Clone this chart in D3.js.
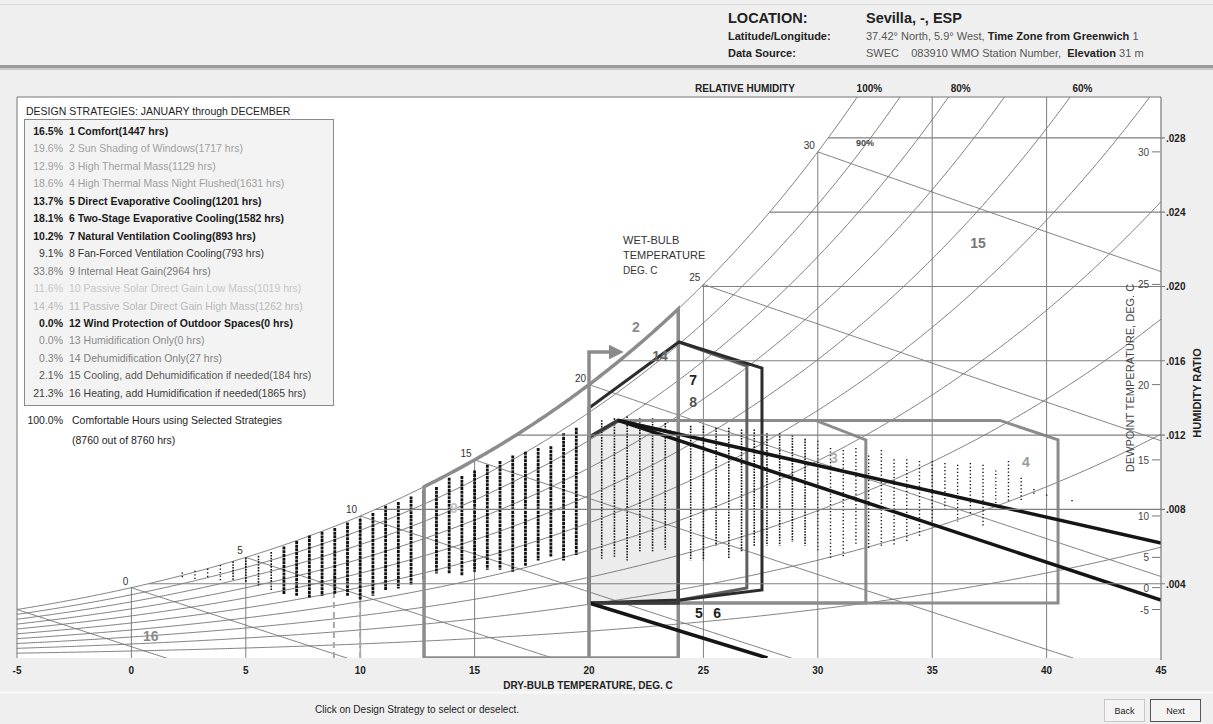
<!DOCTYPE html>
<html><head><meta charset="utf-8">
<script src="https://cdn.jsdelivr.net/npm/d3@7"></script>
<style>
html,body{margin:0;padding:0;background:#efefef;}
svg{display:block;}
.nar{font-family:"Liberation Sans Narrow","Arial Narrow","Liberation Sans",Arial,sans-serif;}
.reg{font-family:"Liberation Sans",Arial,sans-serif;}
</style></head><body>
<svg id="chart" width="1213" height="724"></svg>
<script>
// ---- Design strategies (Sevilla, whole year) ----
const totalHours = 8760;
const strategyNames = ["Comfort","Sun Shading of Windows","High Thermal Mass","High Thermal Mass Night Flushed",
  "Direct Evaporative Cooling","Two-Stage Evaporative Cooling","Natural Ventilation Cooling","Fan-Forced Ventilation Cooling",
  "Internal Heat Gain","Passive Solar Direct Gain Low Mass","Passive Solar Direct Gain High Mass","Wind Protection of Outdoor Spaces",
  "Humidification Only","Dehumidification Only","Cooling, add Dehumidification if needed","Heating, add Humidification if needed"];
const strategyHours = [1447,1717,1129,1631,1201,1582,893,793,2964,1019,1262,0,0,27,184,1865];
// selection state of each strategy: 2 = selected, 1 = partly shown, 0 = off
const strategyState = [2,0,0,0,2,2,2,1,0,0,0,2,0,0,1,1];
const comfortableHours = 8760;

// ---- Axes ----
const dryBulbTicks = [-5,0,5,10,15,20,25,30,35,40,45];
const humidityRatioTicks = [0.004,0.008,0.012,0.016,0.020,0.024,0.028];
const dewPointTicks = [-5,0,5,10,15,20,25,30];
const wetBulbTemps = [-5,0,5,10,15,20,25,30];
const wetBulbLabels = [0,5,10,15,20,25,30];
const rhCurves = [0.1,0.2,0.3,0.4,0.5,0.6,0.7,0.8,0.9];
const rhTopLabels = [1.0,0.8,0.6];

// ---- Hourly readings binned by whole degree F: humidity ratio span (g/kg) ----
const binDryBulbF = [36,37,38,39,40,41,42,43,44,45,46,47,48,49,50,51,52,53,54,55,56,57,58,59,60,61,62,63,64,65,66,67,
  68,69,70,71,72,73,74,75,76,77,78,79,80,81,82,83,84,85,86,87,88,89,90,91,92,93,94,95,96,97,98,99,100,101,102,103,104,106];
const binHighW = [4.6,4.7,4.8,5.0,5.2,5.4,5.5,5.7,6.0,6.3,6.6,6.8,7.0,7.3,7.5,7.8,8.2,8.4,8.7,9.0,9.2,9.7,9.8,10.1,10.4,10.6,10.9,11.1,11.3,11.4,12.1,12.4,
  12.6,12.8,12.9,13.0,12.9,12.9,12.8,12.6,12.5,12.5,12.4,12.4,12.3,12.3,12.1,12.1,12.0,11.8,11.7,11.3,11.2,11.3,10.9,11.2,10.7,10.7,10.6,10.6,10.5,10.4,10.5,10.4,10.1,10.6,9.7,9.1,8.8,8.5];
const binLowW = [4.4,4.3,4.3,4.2,4.2,4.1,3.9,3.7,3.5,3.4,3.3,3.4,3.5,3.4,3.2,3.4,3.7,3.8,4.0,4.3,4.6,4.6,4.5,4.7,4.8,4.8,4.7,5.0,5.3,5.5,5.3,5.6,
  5.5,5.4,5.5,5.3,5.8,5.8,5.9,6.1,5.3,5.3,6.1,5.4,5.8,6.1,6.1,6.1,6.3,6.1,5.8,5.4,5.5,6.1,5.9,6.1,6.1,6.3,6.6,7.4,8.0,7.4,7.8,7.1,8.2,8.5,8.5,8.8,8.7,8.4];
const binDensity = [1,1,1,1,2,2,2,2,3,3,3,3,3,3,3,3,3,3,3,3,3,3,3,3,3,3,3,3,3,3,3,3,
  2,2,2,2,2,2,2,2,2,2,2,2,2,2,2,2,2,2,1,1,1,1,1,1,1,1,1,1,1,1,1,1,1,1,1,1,1,1];

// ---- Strategy zone outlines: [dry bulb C, humidity ratio g/kg] ----
const comfortZone = [[20,2.96],[20,11.88],[21.27,12.79],[23.9,12.05],[23.9,2.96]];
const thermalMassZone = [[20,2.96],[20,11.88],[21.27,12.79],[29.9,12.79],[32.1,11.74],[32.1,2.96]];
const nightFlushZone = [[20,2.96],[20,11.88],[21.27,12.79],[37.96,12.79],[40.5,11.74],[40.5,2.96]];
const naturalVentZone = [[20,2.96],[20,13.46],[23.93,17.01],[27.56,15.61],[27.56,3.66],[24.0,3.12]];
const fanVentEdge = [[23.93,17.01],[26.9,15.72],[26.9,3.77],[24.0,3.12]];
const evapUpper = [[21.27,12.79],[45,6.19]];
const evapLower = [[21.27,12.79],[45,3.12]];
const evapBottom = [[20,2.96],[27.8,0]];
const heatGainRange = [12.79,23.9];
const sunShadeEdge = [[20,0],[20,16.47],[21.0,16.47]];
const passiveSolarEdges = [[8.85,4.5],[10,4.3]];
const zoneLabels = [
  {t:"2",T:22.05,W:17.82,c:"#8a8a8a"},{t:"7",T:24.55,W:14.96,c:"#222"},{t:"8",T:24.55,W:13.78,c:"#555"},
  {t:"14",T:23.1,W:16.25,c:"#666"},{t:"3",T:30.7,W:10.77,c:"#b0b0b0"},{t:"4",T:39.1,W:10.55,c:"#9a9a9a"},
  {t:"15",T:37.0,W:22.34,c:"#777"},{t:"16",T:0.85,W:1.18,c:"#8a8a8a"},{t:"9",T:14.1,W:8.07,c:"#c4c4c4"},
  {t:"5",T:24.8,W:2.42,c:"#222"},{t:"6",T:25.6,W:2.42,c:"#222"}];

// ---- Psychrometrics (31 m elevation) ----
const P = 101.325*Math.pow(1-2.25577e-5*31,5.2559);
const pws = T => 0.61094*Math.exp(17.625*T/(T+243.04));
const Wsat = T => 0.622*pws(T)/(P-pws(T));
const Wrh = (T,phi) => 0.622*phi*pws(T)/(P-phi*pws(T));
const Wwb = (t,twb) => ((2501-2.326*twb)*Wsat(twb)-1.006*(t-twb))/(2501+1.86*t-4.186*twb);

const svg = d3.select("#chart");
const L=17,R=1161,T0=97,B=658;
const x = d3.scaleLinear().domain([-5,45]).range([L,R]);
const y = d3.scaleLinear().domain([0,0.0302]).range([B,T0]);
const yg = g => y(g/1000);

// ---- Header ----
svg.append("rect").attr("x",0).attr("y",0).attr("width",1213).attr("height",724).attr("fill","#efefef");
svg.append("line").attr("x1",0).attr("x2",1213).attr("y1",4.5).attr("y2",4.5).attr("stroke","#d8d8d8");
svg.append("rect").attr("x",0).attr("y",65).attr("width",1213).attr("height",3).attr("fill","#9a9a9a");
svg.append("rect").attr("x",0).attr("y",68).attr("width",1213).attr("height",2).attr("fill","#c9c9c9");
const hd = svg.append("g").attr("class","reg").attr("fill","#222");
hd.append("text").attr("x",728).attr("y",23).attr("font-size",14.5).attr("font-weight","bold").text("LOCATION:");
hd.append("text").attr("x",866).attr("y",23).attr("font-size",14.5).attr("font-weight","bold").text("Sevilla, -, ESP");
hd.append("text").attr("x",728).attr("y",40).attr("font-size",11).attr("font-weight","bold").text("Latitude/Longitude:");
hd.append("text").attr("x",728).attr("y",57).attr("font-size",11).attr("font-weight","bold").text("Data Source:");
const l2 = hd.append("text").attr("x",866).attr("y",40).attr("font-size",11);
l2.append("tspan").attr("fill","#555").text("37.42° North, 5.9° West, ");
l2.append("tspan").attr("font-weight","bold").text("Time Zone from Greenwich ");
l2.append("tspan").attr("fill","#555").text("1");
const l3 = hd.append("text").attr("x",866).attr("y",57).attr("font-size",11).attr("xml:space","preserve");
l3.append("tspan").attr("fill","#555").text("SWEC    083910 WMO Station Number,  ");
l3.append("tspan").attr("font-weight","bold").text("Elevation ");
l3.append("tspan").attr("fill","#555").text("31 m");

// ---- Plot area ----
svg.append("rect").attr("x",L).attr("y",T0).attr("width",R-L).attr("height",B-T0).attr("fill","#fff");
svg.append("defs").append("clipPath").attr("id","plotclip").append("rect")
  .attr("x",L).attr("y",T0).attr("width",R-L).attr("height",B-T0);
svg.select("defs").append("marker").attr("id","arrow").attr("viewBox","0 0 10 10").attr("refX",2).attr("refY",5)
  .attr("markerWidth",4.2).attr("markerHeight",4.2).attr("orient","auto").attr("markerUnits","strokeWidth")
  .append("path").attr("d","M0,0L10,5L0,10Z").attr("fill","#8a8a8a");

const plot = svg.append("g").attr("clip-path","url(#plotclip)");
const line = d3.line().x(d=>x(d[0])).y(d=>y(d[1]));
const lineG = d3.line().x(d=>x(d[0])).y(d=>yg(d[1]));
const tTop = d3.range(-5,45,0.05).find(t=>Wsat(t)>0.0302);

// comfort fill
plot.append("path").attr("d",lineG(comfortZone)+"Z").attr("fill","#ececec");

// grid
const grid = plot.append("g").attr("fill","none").attr("stroke","#707070").attr("stroke-width",0.9);
// saturation curve
grid.append("path").attr("d",line(d3.range(-5,tTop+0.5,0.1).map(t=>[t,Wsat(t)])));
// relative humidity curves
rhCurves.forEach(phi=>{
  grid.append("path").attr("d",line(d3.range(-5,45.01,0.1).map(t=>[t,Wrh(t,phi)])));
});
// wet-bulb lines
wetBulbTemps.forEach(twb=>{
  const pts=[];
  for(let t=twb;t<=45.01;t+=0.1){const w=Wwb(t,twb);pts.push([t,w]);if(w<0)break;}
  grid.append("path").attr("d",line(pts));
});
// dry-bulb verticals
dryBulbTicks.filter(t=>t>-5&&t<45).forEach(t=>{
  grid.append("line").attr("x1",x(t)).attr("x2",x(t)).attr("y1",y(0)).attr("y2",y(Math.min(Wsat(t),0.0302)));
});
// humidity-ratio horizontals
humidityRatioTicks.forEach(w=>{
  const td = d3.range(-5,45,0.01).find(t=>Wsat(t)>=w);
  svg.append("line").attr("x1",x(td)).attr("x2",R+4).attr("y1",y(w)).attr("y2",y(w))
    .attr("stroke","#808080").attr("stroke-width",1.1);
});
// passive solar limits (unselected, dashed)
passiveSolarEdges.forEach(e=>{
  plot.append("line").attr("x1",x(e[0])).attr("x2",x(e[0])).attr("y1",y(0)).attr("y2",yg(e[1]))
    .attr("stroke","#a8a8a8").attr("stroke-width",2).attr("stroke-dasharray","6,4");
});

// hourly readings
const dash = {1:"1.2,2.3",2:"1.6,1.2",3:"3,0.7"};
const wid = {1:1.4,2:1.6,3:2.8};
binDryBulbF.forEach((f,i)=>{
  const tc=(f-32)/1.8;
  plot.append("line").attr("x1",x(tc)).attr("x2",x(tc))
    .attr("y1",yg(binHighW[i])).attr("y2",yg(binLowW[i])+1)
    .attr("stroke","#111").attr("stroke-width",wid[binDensity[i]])
    .attr("stroke-dasharray",dash[binDensity[i]]);
});

// strategy zones
const zones = plot.append("g").attr("fill","none").attr("stroke-linejoin","miter");
const gray="#8c8c8c";
// internal heat gain / sun shading
const hgPts=[[heatGainRange[0],0]].concat(d3.range(heatGainRange[0],heatGainRange[1]+0.001,0.1).map(t=>[t,Wsat(t)]))
  .concat([[heatGainRange[1],Wsat(heatGainRange[1])],[heatGainRange[1],0]]);
zones.append("path").attr("d",line(hgPts)+"Z").attr("stroke",gray).attr("stroke-width",3.5);
svg.append("path").attr("d",lineG(sunShadeEdge)).attr("fill","none").attr("stroke",gray).attr("stroke-width",3.5)
  .attr("marker-end","url(#arrow)");
zones.append("path").attr("d",lineG(nightFlushZone)+"Z").attr("stroke",gray).attr("stroke-width",3);
zones.append("path").attr("d",lineG(thermalMassZone)+"Z").attr("stroke",gray).attr("stroke-width",3);
zones.append("path").attr("d",lineG(fanVentEdge)).attr("stroke","#606060").attr("stroke-width",3);
zones.append("path").attr("d",lineG(naturalVentZone)+"Z").attr("stroke","#2c2c2c").attr("stroke-width",3);
zones.append("path").attr("d",lineG(comfortZone)+"Z").attr("stroke","#3a3a3a").attr("stroke-width",3.5);
[evapUpper,evapLower,evapBottom].forEach(s=>{
  zones.append("path").attr("d",lineG(s)).attr("stroke","#151515").attr("stroke-width",3.5);
});

// zone labels
svg.append("g").attr("class","reg").attr("font-weight","bold").attr("font-size",14).attr("text-anchor","middle")
  .selectAll("text").data(zoneLabels).join("text")
  .attr("x",d=>x(d.T)).attr("y",d=>yg(d.W)+5).attr("fill",d=>d.c).text(d=>d.t);

// frame
svg.append("line").attr("x1",L).attr("x2",L).attr("y1",T0).attr("y2",B).attr("stroke","#777");
svg.append("line").attr("x1",L).attr("x2",R).attr("y1",T0).attr("y2",T0).attr("stroke","#777");
svg.append("line").attr("x1",R).attr("x2",R).attr("y1",T0).attr("y2",B+2).attr("stroke","#777").attr("stroke-width",1.2);

// chart texts
const tx = svg.append("g").attr("class","nar").attr("fill","#222");
wetBulbLabels.forEach(t=>{
  tx.append("text").attr("x",x(t)-3).attr("y",y(Wsat(t))-3).attr("text-anchor","end").attr("font-size",10).attr("fill","#333").text(t);
});
["WET-BULB","TEMPERATURE","DEG. C"].forEach((s,i)=>{
  tx.append("text").attr("x",623).attr("y",244+i*15).attr("font-size",i==2?10:11).attr("fill","#333").text(s);
});
tx.append("text").attr("x",856).attr("y",146).attr("font-size",9).attr("font-weight","bold").attr("fill","#444").text("90%");
tx.append("text").attr("x",695).attr("y",92).attr("font-size",10).attr("font-weight","bold").text("RELATIVE HUMIDITY");
rhTopLabels.forEach(phi=>{
  const tt = d3.range(20,45,0.01).find(t=>Wrh(t,phi)>=0.0302);
  tx.append("text").attr("x",x(tt)+12).attr("y",92).attr("text-anchor","middle").attr("font-size",10).attr("font-weight","bold")
    .text(Math.round(phi*100)+"%");
});
// x axis
dryBulbTicks.forEach(t=>{
  tx.append("text").attr("x",x(t)).attr("y",674).attr("text-anchor","middle").attr("font-size",10).attr("font-weight","bold").text(t);
});
tx.append("text").attr("x",588).attr("y",689).attr("text-anchor","middle").attr("font-size",10).attr("font-weight","bold")
  .text("DRY-BULB TEMPERATURE, DEG. C");
// right axes
humidityRatioTicks.forEach(w=>{
  tx.append("text").attr("x",R+5).attr("y",y(w)+4).attr("font-size",10).attr("font-weight","bold")
    .text(d3.format(".3f")(w).replace(/^0/,""));
});
dewPointTicks.forEach(t=>{
  const yy=y(Wsat(t));
  svg.append("line").attr("x1",R-9).attr("x2",R-1).attr("y1",yy).attr("y2",yy).attr("stroke","#777");
  tx.append("text").attr("x",R-12).attr("y",yy+4).attr("text-anchor","end").attr("font-size",10).attr("fill","#444").text(t);
});
tx.append("text").attr("transform","translate(1134,378) rotate(-90)").attr("text-anchor","middle").attr("font-size",11)
  .attr("fill","#444").text("DEWPOINT TEMPERATURE, DEG. C");
tx.append("text").attr("transform","translate(1201,393) rotate(-90)").attr("text-anchor","middle").attr("font-size",11)
  .attr("font-weight","bold").text("HUMIDITY RATIO");

// ---- Legend ----
const lg = svg.append("g").attr("class","nar");
lg.append("text").attr("x",26).attr("y",115).attr("font-size",10.5).attr("fill","#222").text("DESIGN STRATEGIES:  JANUARY through DECEMBER");
lg.append("rect").attr("x",24.5).attr("y",119.5).attr("width",309).attr("height",286).attr("fill","#f3f3f3").attr("stroke","#8a8a8a");
const txtColor = i => strategyState[i]===2 ? "#1a1a1a" : (strategyState[i]===1 ? ["#333","#575757","#3c3c3c"][[7,14,15].indexOf(i)] :
  ({1:"#a0a0a0",2:"#a0a0a0",3:"#a0a0a0",8:"#7a7a7a",9:"#c6c6c6",10:"#b8b8b8",12:"#8a8a8a",13:"#808080"}[i]));
strategyNames.forEach((n,i)=>{
  const yy = 135+i*17.45;
  const c = txtColor(i);
  const fw = strategyState[i]===2 ? "bold" : "normal";
  lg.append("text").attr("x",63).attr("y",yy).attr("text-anchor","end").attr("font-size",10.5).attr("font-weight",fw).attr("fill",c)
    .text(d3.format(".1f")(strategyHours[i]/totalHours*100)+"%");
  lg.append("text").attr("x",69).attr("y",yy).attr("font-size",10.5).attr("font-weight",fw).attr("fill",c)
    .text(`${i+1}  ${n}(${strategyHours[i]} hrs)`);
});
lg.append("text").attr("x",63).attr("y",424).attr("text-anchor","end").attr("font-size",10.5).attr("fill","#222")
  .text(d3.format(".1f")(comfortableHours/totalHours*100)+"%");
lg.append("text").attr("x",72).attr("y",424).attr("font-size",10.5).attr("fill","#222").text("Comfortable Hours using Selected Strategies");
lg.append("text").attr("x",72).attr("y",444).attr("font-size",10.5).attr("fill","#222").text(`(${comfortableHours} out of ${totalHours} hrs)`);

// ---- Footer ----
svg.append("line").attr("x1",0).attr("x2",1213).attr("y1",692.5).attr("y2",692.5).attr("stroke","#fafafa").attr("stroke-width",2);
svg.append("text").attr("class","nar").attr("x",315).attr("y",713).attr("font-size",10).attr("fill","#222").text("Click on Design Strategy to select or deselect.");
svg.append("rect").attr("x",1104.5).attr("y",699.5).attr("width",40).attr("height",22).attr("fill","#f4f4f4").attr("stroke","#c8c8c8");
svg.append("rect").attr("x",1150.5).attr("y",699.5).attr("width",50).attr("height",22).attr("fill","#f4f4f4").attr("stroke","#555");
svg.append("text").attr("class","nar").attr("x",1124.5).attr("y",714).attr("text-anchor","middle").attr("font-size",9).attr("fill","#222").text("Back");
svg.append("text").attr("class","nar").attr("x",1175.5).attr("y",714).attr("text-anchor","middle").attr("font-size",9).attr("fill","#222").text("Next");
</script></body></html>
